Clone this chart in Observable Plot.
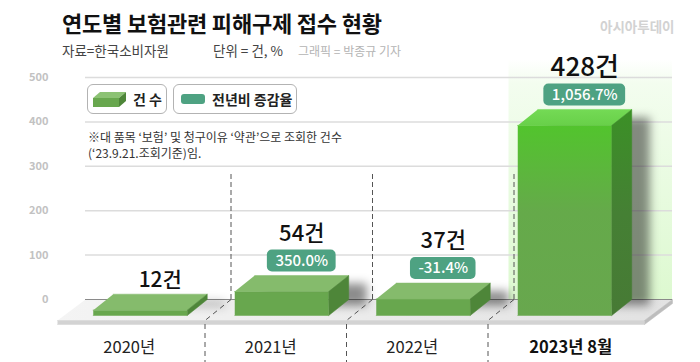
<!DOCTYPE html>
<html><head><meta charset="utf-8">
<script src="https://cdn.jsdelivr.net/npm/d3@7"></script>
<script src="https://cdn.jsdelivr.net/npm/@observablehq/plot@0.6"></script>
<style>
body{margin:0;background:#fff;font-family:"Noto Sans CJK KR","Noto Sans",sans-serif;}
#wrap{position:relative;width:700px;height:362px;overflow:hidden;background:#fff;}
#chart{position:absolute;left:0;top:0;}
.abs{position:absolute;white-space:nowrap;line-height:1;}
#title{left:62px;top:11px;font-size:22px;font-weight:700;color:#111;letter-spacing:-0.2px;}
.sub{top:44px;font-size:13.5px;color:#444;}
#credit{top:45px;font-size:12px;color:#b4b4b4;}
#mark{left:600px;top:20px;font-size:13.5px;font-weight:700;color:#d2d2d2;}
.lbox{position:absolute;top:84px;height:30px;box-sizing:border-box;border:1px solid #b3b3b3;border-radius:6px;background:#fff;}
.ltxt{position:absolute;top:7px;font-size:14px;font-weight:700;color:#222;line-height:1;white-space:nowrap;}
#note{left:88px;top:129px;font-size:12px;color:#333;line-height:16px;}
</style></head>
<body>
<div id="wrap">
  <div id="chart"></div>
  <div class="abs" id="title">연도별 보험관련 피해구제 접수 현황</div>
  <div class="abs sub" style="left:62px">자료=한국소비자원</div>
  <div class="abs sub" style="left:213px">단위 = 건, %</div>
  <div class="abs" id="credit" style="left:298px">그래픽 = 박종규 기자</div>
  <div class="abs" id="mark">아시아투데이</div>
  <div class="lbox" style="left:87px;width:80px;">
    <svg style="position:absolute;left:5px;top:5px" width="34" height="19">
      <polygon points="0,8 26,8 26,17 0,17" fill="#68a74e"/>
      <polygon points="0,8 26,8 33,2 7,2" fill="#8cc274"/>
      <polygon points="26,8 33,2 33,11 26,17" fill="#4e8639"/>
    </svg>
    <div class="ltxt" style="left:45px">건 수</div>
  </div>
  <div class="lbox" style="left:173px;width:124px;">
    <div style="position:absolute;left:7px;top:9px;width:24px;height:10px;border-radius:3px;background:#4ea282"></div>
    <div class="ltxt" style="left:38px">전년비 증감율</div>
  </div>
  <div class="abs" id="note">※대 품목 ‘보험’ 및 청구이유 ‘약관’으로 조회한 건수<br>(‘23.9.21.조회기준)임.</div>
</div>
<script>
// ---- data ----
const years = ["2020년", "2021년", "2022년", "2023년 8월"];
const counts = [12, 54, 37, 428];
const changes = [null, 350.0, -31.4, 1056.7];
const yTicks = [0, 100, 200, 300, 400, 500];
const highlight = "2023년 8월";
const unit = "건";

// ---- layout ----
const W = 700, H = 362, mL = 89, mR = 45, mT = 77, mB = 63;
const yMax = 500;
const kx = (W - mL - mR) / years.length;   // px per x unit
const ky = (H - mT - mB) / yMax;           // px per y unit
const px = p => p / kx, py = p => p / ky;

const fmt = d3.formatLocale({decimal: ".", thousands: ",", grouping: [3], currency: ["", ""], minus: "-"}).format(",.1f");

const bars = years.map((year, i) => ({year, i, c: i + 0.5, v: counts[i], ch: changes[i], hi: year === highlight}));

// 3D faces
const hw = px(47), DX = px(20), DY = py(16);
const faces = [];
function poly(id, pts, color) { pts.forEach(([x, y], k) => faces.push({id, k, x, y, color})); }
for (const b of bars) {
  const L = b.c - hw, R = b.c + hw, v = b.v;
  poly(b.year + "-front", [[L - DX, -DY], [R - DX, -DY], [R - DX, v - DY], [L - DX, v - DY]], b.hi ? "url(#gFront)" : "#68a74e");
  poly(b.year + "-top", [[L - DX, v - DY], [R - DX, v - DY], [R, v], [L, v]], b.hi ? "url(#gTop)" : "#85bb6c");
  poly(b.year + "-side", [[R - DX, -DY], [R, 0], [R, v], [R - DX, v - DY]], b.hi ? "url(#gSide)" : "#4e8639");
}
const shadows = [];
for (const b of bars) {
  const L = b.c - hw, R = b.c + hw, v = b.v;
  [[L + px(10), -py(6)], [R + px(18), -py(6)], [R + px(18), v - py(8)], [L + px(10), v - py(8)]]
    .forEach(([x, y], k) => shadows.push({id: b.year, k, x, y}));
}

// floor
const xl = px(-4), xr = years.length + px(17), FDX = px(28), FDY = py(21), FT = py(4);
const floor = [];
function fpoly(id, pts, color) { pts.forEach(([x, y], k) => floor.push({id, k, x, y, color})); }
fpoly("top", [[xl, 0], [xr, 0], [xr - FDX, -FDY], [xl - FDX, -FDY]], "url(#gFloor)");
fpoly("front", [[xl - FDX, -FDY], [xr - FDX, -FDY], [xr - FDX, -FDY - FT], [xl - FDX, -FDY - FT]], "#d3d3d3");
fpoly("side", [[xr - FDX, -FDY], [xr, 0], [xr, -FT], [xr - FDX, -FDY - FT]], "#bdbdbd");

const dividers = d3.range(1, years.length);
const hiIdx = years.indexOf(highlight);

// badge widths measured from text
const ctx = document.createElement("canvas").getContext("2d");
ctx.font = "500 15px 'Noto Sans CJK KR'";
const badges = bars.filter(b => b.ch != null).map(b => {
  const w = ctx.measureText(fmt(b.ch) + "%").width + 16;
  return {...b, w};
});
const BY = 14.5, BH = 11;

const svg = Plot.plot({
  width: W, height: H,
  marginLeft: mL, marginRight: mR, marginTop: mT, marginBottom: mB,
  x: {type: "linear", domain: [0, years.length], axis: null},
  y: {domain: [0, yMax], axis: null},
  color: {type: "identity"},
  style: {fontFamily: "'Noto Sans CJK KR', 'Noto Sans', sans-serif", background: "transparent", overflow: "visible"},
  marks: [
    // highlight column
    Plot.rect([highlight], {x1: hiIdx - px(5), x2: xr, y1: 0, y2: 540, fill: "url(#gHi)"}),
    // gridlines
    Plot.ruleY(yTicks.filter(t => t > 0), {x1: xl, x2: xr, stroke: "#dcdcdc", strokeWidth: 1.5}),
    // dashed dividers (back)
    Plot.ruleX(dividers, {y1: 0, y2: 286, stroke: "#555", strokeWidth: 1, strokeDasharray: "5,3"}),
    // floor
    Plot.line(floor, {x: "x", y: "y", z: "id", fill: "color", stroke: "color", strokeWidth: 0.5}),
    Plot.ruleY([0], {x1: xl, x2: xr, stroke: "#8a8a8a", strokeWidth: 1}),
    // dashes across and below the floor
    Plot.link(dividers, {x1: d => d, y1: 0, x2: d => d - px(26), y2: -FDY, stroke: "#555", strokeWidth: 1, strokeDasharray: "5,4"}),
    Plot.ruleX(dividers, {x: d => d - px(26), y1: -FDY - FT, y2: -py(66), stroke: "#555", strokeWidth: 1, strokeDasharray: "5,4"}),
    // shadows
    Plot.line(shadows, {x: "x", y: "y", z: "id", fill: "#000000", fillOpacity: 0.45, stroke: "none"}),
    // bars
    Plot.line(faces, {x: "x", y: "y", z: "id", fill: "color", stroke: "color", strokeWidth: 0.5}),
    // badges
    Plot.rect(badges, {x1: d => d.c - px(d.w / 2), x2: d => d.c + px(d.w / 2), y1: d => d.v + py(BY - BH), y2: d => d.v + py(BY + BH), rx: 5, fill: "#4ea282"}),
    Plot.text(badges, {x: "c", y: "v", dy: -BY, text: d => fmt(d.ch) + "%", fill: "#fff", fontSize: 15, fontWeight: 500}),
    // value labels
    Plot.text(bars.filter(b => b.ch != null), {x: "c", y: "v", dy: -42, text: d => d.v + unit, fill: "#111", fontSize: d => d.hi ? 26 : 22, fontWeight: 500}),
    Plot.text(bars.filter(b => b.ch == null), {x: "c", y: "v", dy: -14, text: d => d.v + unit, fill: "#111", fontSize: 21, fontWeight: 500}),
    // y labels
    Plot.text(yTicks, {y: d => d, frameAnchor: "left", dx: -41, textAnchor: "end", text: d => String(d), fill: "#c2c2c2", fontSize: 11, fontWeight: 700}),
    // year labels
    Plot.text(bars.filter(b => !b.hi), {x: "c", frameAnchor: "bottom", dy: 53, dx: -31, text: "year", fill: "#222", fontSize: 16.5}),
    Plot.text(bars.filter(b => b.hi), {x: "c", frameAnchor: "bottom", dy: 53, dx: -14, text: "year", fill: "#111", fontSize: 16.5, fontWeight: 700})
  ]
});

const s = d3.select(svg);
const defs = s.insert("defs", ":first-child");
function grad(id, stops, vertical = true) {
  const g = defs.append("linearGradient").attr("id", id)
    .attr("x1", 0).attr("y1", 0).attr("x2", vertical ? 0 : 1).attr("y2", vertical ? 1 : 0);
  stops.forEach(([o, c]) => g.append("stop").attr("offset", o).attr("stop-color", c));
}
grad("gFront", [[0, "#52c42d"], [0.45, "#65aa4a"], [1, "#68a74e"]]);
grad("gSide", [[0, "#3b9026"], [0.5, "#458034"], [1, "#477a35"]]);
grad("gTop", [[0, "#74da55"], [1, "#68d049"]]);
grad("gHi", [[0, "#ffffff"], [0.1, "#f3fdef"], [1, "#ddf9d0"]]);
grad("gFloor", [[0, "#f4f4f4"], [1, "#e2e2e2"]], false);
defs.append("filter").attr("id", "blur").attr("x", "-50%").attr("y", "-50%").attr("width", "200%").attr("height", "200%")
  .append("feGaussianBlur").attr("stdDeviation", 5);
s.selectAll('g[fill="#000000"]').attr("filter", "url(#blur)");

document.getElementById("chart").appendChild(svg);
</script>
</body></html>
